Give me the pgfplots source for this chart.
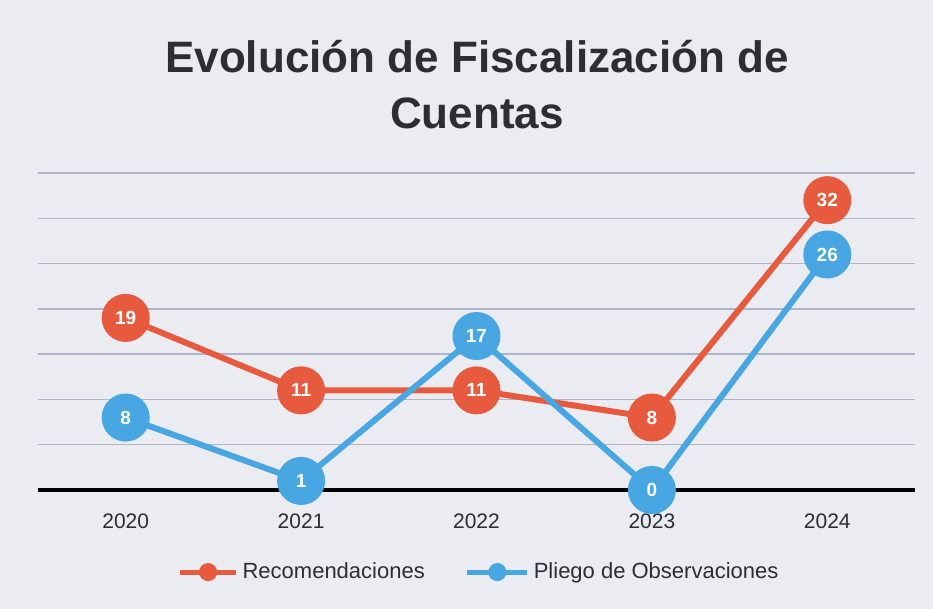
\documentclass[border=0pt]{standalone}
\usepackage{pgfplots}
\pgfplotsset{compat=1.18}
\usepackage{fontspec}
\setmainfont{Liberation Sans}
\definecolor{bg}{RGB}{234,236,242}
\definecolor{rojo}{RGB}{232,90,62}
\definecolor{azul}{RGB}{72,166,226}
\definecolor{gridc}{RGB}{176,180,200}
\definecolor{txt}{RGB}{45,45,52}
\begin{document}
\begin{tikzpicture}
\fill[bg] (0,0) rectangle (466.5pt,304.5pt);
\node[font=\bfseries\fontsize{22}{28}\selectfont, text=txt, align=center] at (238.5pt,262pt) {Evolución de Fiscalización de\\Cuentas};
\begin{axis}[
  at={(19pt,59.5pt)}, anchor=south west,
  scale only axis, width=438.5pt, height=158.5pt,
  xmin=-0.5, xmax=4.5, ymin=0, ymax=35,
  axis line style={draw=none},
  /pgf/number format/assume math mode=true,
  xtick={0,1,2,3,4}, xticklabels={2020,2021,2022,2023,2024},
  xticklabel style={font=\fontsize{10.5}{12}\selectfont, text=txt, yshift=-8.5pt},
  major tick length=0pt,
  ytick={5,10,15,20,25,30,35}, yticklabels={},
  ymajorgrids, grid style={gridc, line width=0.7pt},
  extra y ticks={0}, extra y tick labels={},
  extra y tick style={grid style={black, line width=1.6pt}},
  clip=false,
  legend columns=2,
  legend style={at={(0.504,-0.259)}, anchor=center, draw=none, fill=none,
    font=\fontsize{11}{13}\selectfont, text=txt,
    /tikz/every even column/.append style={column sep=18pt}},
  nodes near coords,
  every node near coord/.append style={anchor=center, text=white, font=\bfseries\fontsize{9.5}{11}\selectfont},
]
\addplot[rojo, line width=3pt, mark=*, mark size=10.5pt, mark options={fill=rojo, draw=rojo},
  legend image code/.code={\draw[rojo, line width=2.5pt] (0pt,0pt)--(28pt,0pt); \fill[rojo] (14pt,0pt) circle (3pt);}]
  coordinates {(0,19) (1,11) (2,11) (3,8) (4,32)};
\addlegendentry{Recomendaciones}
\addplot[azul, line width=3pt, mark=*, mark size=10.5pt, mark options={fill=azul, draw=azul},
  legend image code/.code={\draw[azul, line width=2.5pt] (0pt,0pt)--(30pt,0pt); \fill[azul] (15pt,0pt) circle (3pt);}]
  coordinates {(0,8) (1,1) (2,17) (3,0) (4,26)};
\addlegendentry{Pliego de Observaciones}
\end{axis}
\end{tikzpicture}
\end{document}
